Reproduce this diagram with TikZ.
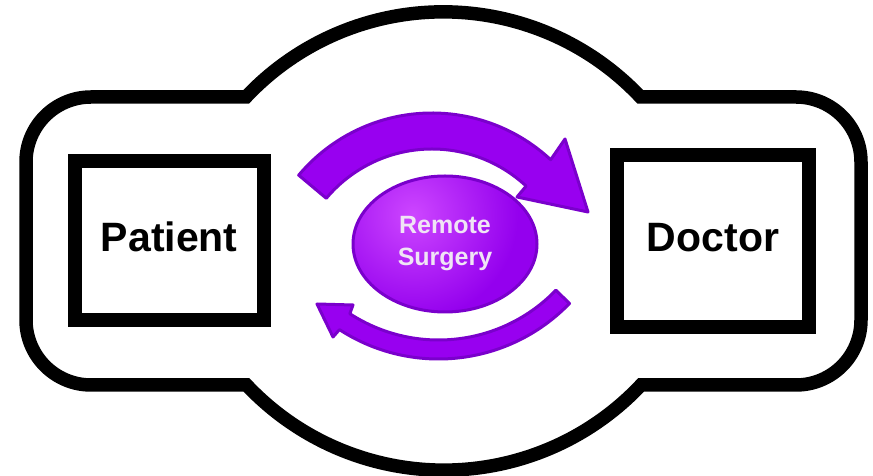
\documentclass[tikz,border=0pt]{standalone}
\usepackage{fontspec}
\setmainfont{Liberation Sans}
\usetikzlibrary{shapes.geometric}
\definecolor{bandfill}{RGB}{152,0,240}
\definecolor{banddraw}{RGB}{122,0,204}
\definecolor{ballin}{RGB}{205,70,255}
\definecolor{ballout}{RGB}{148,0,238}
\definecolor{balltext}{RGB}{240,228,245}
\tikzset{
  outline/.style={draw=black, line width=13.5pt, line join=miter},
  sidebox/.style={draw=black, line width=14pt, rectangle, inner sep=0pt,
    font=\fontsize{41}{49}\selectfont\bfseries, text depth=8pt},
  arrowband/.style={fill=bandfill, draw=banddraw, line width=3pt, line join=round},
  centreball/.style={ellipse, draw=banddraw, line width=3pt, inner sep=0pt,
    minimum width=184pt, minimum height=136pt, text=balltext, align=center,
    font=\fontsize{25}{32}\selectfont\bfseries,
    path picture={\fill[ballout] (path picture bounding box.south west) rectangle (path picture bounding box.north east);
      \shade[inner color=ballin, outer color=ballout]
      ([shift={(-32pt,29pt)}]path picture bounding box.center) circle (105pt);}}
}
\begin{document}
\begin{tikzpicture}[x=1pt,y=1pt]
\useasboundingbox (0,0) rectangle (873,476);
% outer outline
\draw[outline] (246,379) arc[start angle=136.7, end angle=43.3, radius=271]
  -- (796,379) arc[start angle=90, end angle=0, radius=65]
  -- (861,156) arc[start angle=0, end angle=-90, radius=65]
  -- (641,91) arc[start angle=-43.3, end angle=-136.7, radius=271]
  -- (91,91) arc[start angle=-90, end angle=-180, radius=65]
  -- (26,314) arc[start angle=180, end angle=90, radius=65]
  -- cycle;
% side boxes
\node[sidebox, minimum width=188.5pt, minimum height=159pt] (patient) at (169.25,235.5) {Patient};
\node[sidebox, minimum width=192pt, minimum height=171.5pt] (doctor) at (713,234.75) {Doctor};
% top curved arrow
\draw[arrowband] ([shift={(140:174)}]432,189) arc[start angle=140, end angle=47, radius=174]
  -- (565,337) -- (588,264) -- (517,279)
  -- ([shift={(47:138)}]432,189) arc[start angle=47, end angle=140, radius=138] -- cycle;
% bottom curved arrow
\draw[arrowband] ([shift={(-44:182)}]438.6,299) arc[start angle=-44, end angle=-123, radius=182]
  -- (333,139) -- (317,172) -- (353,171)
  -- ([shift={(-123:163)}]438.6,299) arc[start angle=-123, end angle=-44, radius=163] -- cycle;
% centre
\node[centreball] (remote) at (445,232) {Remote\\Surgery};
\end{tikzpicture}
\end{document}
